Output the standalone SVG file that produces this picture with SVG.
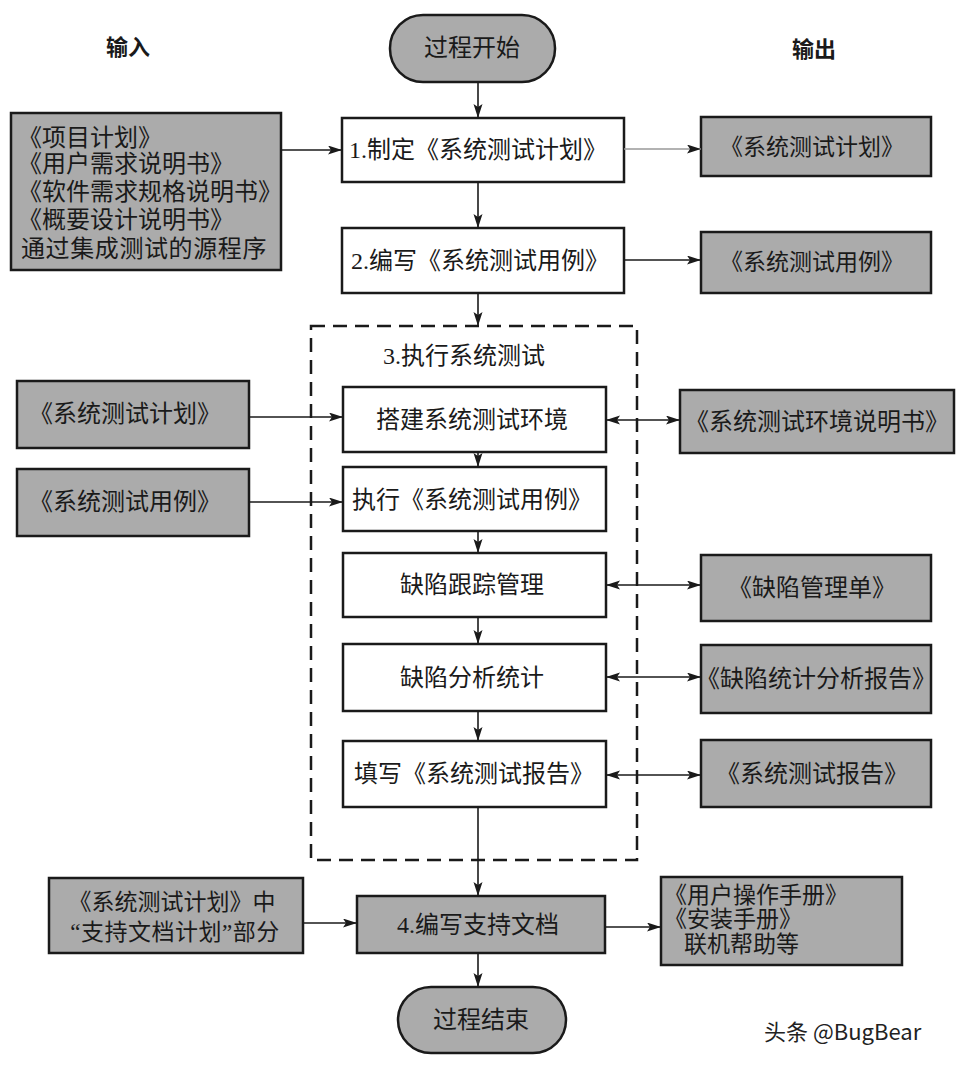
<svg xmlns="http://www.w3.org/2000/svg" width="974" height="1066" viewBox="0 0 974 1066">
<style>
text{font-family:"Liberation Serif","Noto Sans CJK SC",serif;font-size:24px;fill:#1a1a1a;}
.m{text-anchor:middle;}
.w{fill:#fff;stroke:#1a1a1a;stroke-width:2.5;}
.g{fill:#ababab;stroke:#1a1a1a;stroke-width:2.5;}
.c{stroke:#1a1a1a;stroke-width:1.6;fill:none;marker-end:url(#ah);}
.b{marker-start:url(#ah);}
.h{font-size:22px;font-weight:bold;}
.s{font-size:23px;}
</style>
<defs>
<marker id="ah" markerUnits="userSpaceOnUse" markerWidth="16" markerHeight="10" refX="14" refY="4.5" orient="auto-start-reverse">
<path d="M0,0 L14,4.5 L0,9 L3,4.5 z" fill="#1a1a1a"/>
</marker>
</defs>
<rect width="974" height="1066" fill="#fff"/>
<g id="labels">
<text class="m h" x="128" y="55">输入</text>
<text class="m h" x="814" y="57">输出</text>
</g>
<g id="start"><rect class="g" x="390" y="15" width="165" height="67" rx="33"/><text class="m" x="472" y="56">过程开始</text></g>
<g id="in1"><rect class="g" x="11" y="113" width="270" height="157"/>
<text x="18" y="146">《项目计划》</text>
<text x="18" y="172">《用户需求说明书》</text>
<text x="18" y="200">《软件需求规格说明书》</text>
<text x="18" y="228">《概要设计说明书》</text>
<text x="21" y="257" style="letter-spacing:0.6px">通过集成测试的源程序</text></g>
<g id="step1"><rect class="w" x="342" y="118" width="282" height="64"/><text class="m" x="478" y="158">1.制定《系统测试计划》</text></g>
<g id="out1"><rect class="g" x="701" y="117" width="230" height="59"/><text class="m s" x="812" y="155">《系统测试计划》</text></g>
<g id="step2"><rect class="w" x="342" y="228" width="282" height="65"/><text class="m" x="480" y="269">2.编写《系统测试用例》</text></g>
<g id="out2"><rect class="g" x="701" y="232" width="230" height="61"/><text class="m s" x="812" y="270">《系统测试用例》</text></g>
<g id="step3"><rect x="311" y="326" width="326" height="534" fill="none" stroke="#1a1a1a" stroke-width="2.5" stroke-dasharray="14,8"/><text x="383" y="364">3.执行系统测试</text></g>
<g id="inA"><rect class="g" x="17" y="381" width="232" height="67"/><text class="m" x="125" y="422">《系统测试计划》</text></g>
<g id="inB"><rect class="g" x="17" y="469" width="232" height="67"/><text class="m" x="125" y="510">《系统测试用例》</text></g>
<g id="sA"><rect class="w" x="343" y="387" width="263" height="65"/><text class="m" x="472" y="428">搭建系统测试环境</text></g>
<g id="sB"><rect class="w" x="343" y="467" width="263" height="64"/><text class="m" x="472" y="508">执行《系统测试用例》</text></g>
<g id="sC"><rect class="w" x="343" y="553" width="263" height="64"/><text class="m" x="472" y="593">缺陷跟踪管理</text></g>
<g id="sD"><rect class="w" x="343" y="644" width="263" height="67"/><text class="m" x="472" y="686">缺陷分析统计</text></g>
<g id="sE"><rect class="w" x="343" y="741" width="263" height="66"/><text class="m" x="474" y="782">填写《系统测试报告》</text></g>
<g id="oA"><rect class="g" x="680" y="390" width="274" height="63"/><text class="m" x="817" y="430">《系统测试环境说明书》</text></g>
<g id="oC"><rect class="g" x="701" y="555" width="230" height="66"/><text class="m" x="812" y="596">《缺陷管理单》</text></g>
<g id="oD"><rect class="g" x="701" y="645" width="230" height="68"/><text class="m" x="816" y="687">《缺陷统计分析报告》</text></g>
<g id="oE"><rect class="g" x="701" y="740" width="230" height="67"/><text class="m" x="812" y="782">《系统测试报告》</text></g>
<g id="in4"><rect class="g" x="49" y="878" width="254" height="75"/>
<text class="m s" x="172" y="910">《系统测试计划》中</text>
<text class="m s" x="175" y="940" style="letter-spacing:0.5px">“支持文档计划”部分</text></g>
<g id="step4"><rect class="g" x="357" y="896" width="248" height="57"/><text class="m" x="478" y="933">4.编写支持文档</text></g>
<g id="out4"><rect class="g" x="661" y="877" width="241" height="88"/>
<text class="s" x="664" y="903">《用户操作手册》</text>
<text class="s" x="664" y="927">《安装手册》</text>
<text class="s" x="684" y="952">联机帮助等</text></g>
<g id="end"><rect class="g" x="398" y="987" width="168" height="66" rx="33"/><text class="m" x="481" y="1028">过程结束</text></g>
<g id="connectors">
<line class="c" x1="478" y1="82" x2="478" y2="118"/>
<line class="c" x1="478" y1="182" x2="478" y2="228"/>
<line class="c" x1="478" y1="293" x2="478" y2="326"/>
<line class="c" x1="478" y1="452" x2="478" y2="467"/>
<line class="c" x1="478" y1="531" x2="478" y2="553"/>
<line class="c" x1="478" y1="617" x2="478" y2="644"/>
<line class="c" x1="478" y1="711" x2="478" y2="741"/>
<line class="c" x1="478" y1="807" x2="478" y2="896"/>
<line class="c" x1="478" y1="953" x2="478" y2="987"/>
<line class="c" x1="281" y1="150" x2="342" y2="150"/>
<line class="c" x1="624" y1="149" x2="701" y2="149" style="stroke:#999"/>
<line class="c" x1="624" y1="260" x2="701" y2="260"/>
<line class="c" x1="249" y1="417" x2="343" y2="417"/>
<line class="c" x1="249" y1="502" x2="343" y2="502"/>
<line class="c b" x1="606" y1="420" x2="680" y2="420"/>
<line class="c b" x1="606" y1="585" x2="701" y2="585"/>
<line class="c b" x1="606" y1="677" x2="701" y2="677"/>
<line class="c b" x1="606" y1="775" x2="701" y2="775"/>
<line class="c" x1="303" y1="923" x2="357" y2="923"/>
<line class="c" x1="605" y1="927" x2="661" y2="927"/>
</g>
<text x="764" y="1040" style="font-family:'Noto Sans CJK SC','Liberation Sans',sans-serif;font-size:22px;fill:#222">头条 @BugBear</text>
</svg>
